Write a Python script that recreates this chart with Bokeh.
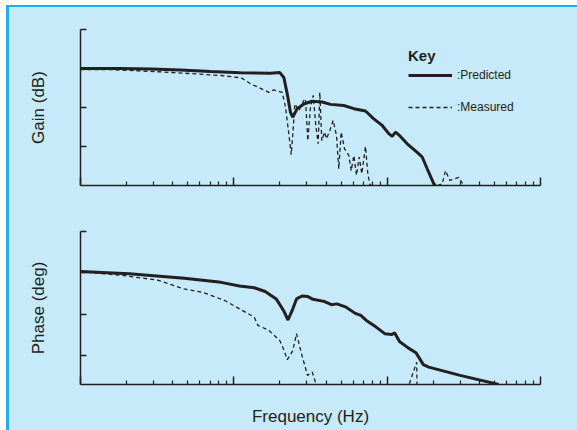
from bokeh.plotting import figure
from bokeh.models import Range1d, FixedTicker, Legend, LegendItem
from bokeh.layouts import column
from bokeh.embed import file_html
from bokeh.resources import INLINE

nan = float("nan")

# ---- data ----
gain_pred_freq = [1.0, 1.82, 2.86, 4.49, 7.05, 11.05, 17.3, 19.9, 21.2, 22.3, 23.4, 24.2, 25.9,
                  28.6, 32.4, 37.7, 42.7, 52.1, 60.6, 72.2, 81.8, 92.8, 102.5, 107.9, 113.4,
                  119.1, 135.1, 157, 169.2, 182.4, 201.5, 206.7]
gain_pred = [3.0, 3.0, 2.99, 2.96, 2.92, 2.89, 2.88, 2.9, 2.77, 2.35, 1.88, 1.75, 1.97,
             2.09, 2.16, 2.14, 2.08, 2.05, 1.97, 1.91, 1.71, 1.54, 1.33, 1.26, 1.37,
             1.3, 1.07, 0.85, 0.73, 0.43, 0.04, 0.0]

gain_meas_freq = [1.0, 1.576, 2.735, 4.75, 8.26, 11.19, 12.85, 16.91, 18.23, 20.68, 21.73, 22.83,
                  23.67, 24.39, 24.98, 26.53, 28.6, 29.34, 30.37, 31.62, 32.93, 34.24, 35.5,
                  36.37, 37.48, 39.03, 40.21, 42.26, 44.48, 46.72, 48.36, 50.15, 52.7, 56.22,
                  58.29, 60.6, 63.1, 65.7, 68.3, 72.2, 74.8, 77.0, 78.7, nan,
                  213, 228.6, 240.2, 256.2, 293.2, 316]
gain_meas = [2.97, 2.97, 2.93, 2.88, 2.82, 2.76, 2.61, 2.39, 2.45, 2.39, 2.01, 1.33,
             0.79, 1.45, 2.09, 1.92, 2.18, 2.22, 1.15, 2.01, 2.31, 1.54, 1.07,
             2.39, 1.15, 1.37, 1.2, 1.41, 1.67, 1.28, 0.43, 1.37, 0.94, 0.77,
             0.38, 0.77, 0.26, 0.73, 0.3, 1.0, 0.3, 0.04, 0.0, nan,
             0.0, 0.04, 0.38, 0.13, 0.21, 0.0]

phase_pred_freq = [1.0, 2.08, 4.75, 8.26, 10.89, 13.58, 16.02, 18.9, 21.09, 22.56, 24.25, 25.63,
                   27.84, 30.23, 32.83, 38.73, 43.35, 47.0, 54.0, 61.96, 67.3, 73.1, 83.9, 96.4,
                   107.5, 111.8, 120.3, 137.8, 154, 172.1, 186.8, 299, 533.9]
phase_pred = [3.03, 2.98, 2.87, 2.77, 2.68, 2.64, 2.55, 2.37, 2.09, 1.86, 2.13, 2.37,
              2.44, 2.43, 2.36, 2.31, 2.23, 2.25, 2.17, 2.02, 1.97, 1.85, 1.70, 1.53,
              1.51, 1.55, 1.34, 1.18, 1.07, 0.78, 0.72, 0.52, 0.3]

phase_meas_freq = [1.0, 1.86, 3.23, 4.75, 6.27, 8.73, 10.89, 13.58, 14.35, 16.93, 19.97, 21.09,
                   22.32, 24.25, 25.63, 27.84, 30.23, 32.49, 34.29, nan, 139.5, 155.8, 156.5]
phase_meas = [3.03, 2.94, 2.82, 2.61, 2.53, 2.33, 2.13, 1.93, 1.73, 1.61, 1.36, 1.16,
              0.9, 1.12, 1.53, 1.0, 0.52, 0.6, 0.32, nan, 0.32, 0.84, 0.3]

x_major = [1, 10, 100, 1000]
x_minor = [m * 10 ** k for k in range(3) for m in range(2, 10)]
gain_ticks = [1, 2, 3, 4]
phase_ticks = [1, 2, 3, 4]

BG = "#c6eaf9"
INK = "#231f20"
FONT = "Liberation Sans"


def make_fig(y_range, fh, top, bottom):
    p = figure(x_axis_type="log", x_range=Range1d(1, 1000), y_range=y_range,
               frame_width=460, frame_height=fh,
               min_border_left=71, min_border_right=37,
               min_border_top=top, min_border_bottom=bottom,
               output_backend="svg", toolbar_location=None,
               background_fill_color=BG, border_fill_color=BG,
               outline_line_color=None)
    p.xgrid.visible = False
    p.ygrid.visible = False
    for ax in (p.xaxis[0], p.yaxis[0]):
        ax.axis_line_color = INK
        ax.axis_line_width = 1.5
        ax.major_tick_line_color = INK
        ax.major_tick_line_width = 1.5
        ax.major_tick_out = 0
        ax.minor_tick_out = 0
        ax.major_label_text_font_size = "1px"
        ax.major_label_text_alpha = 0
        ax.major_label_standoff = 0
        ax.axis_label_text_font = FONT
        ax.axis_label_text_font_style = "normal"
        ax.axis_label_text_font_size = "17px"
        ax.axis_label_text_color = INK
    p.xaxis.ticker = FixedTicker(ticks=x_major, minor_ticks=x_minor)
    p.xaxis.major_tick_in = 8
    p.xaxis.minor_tick_in = 4
    p.xaxis.minor_tick_line_color = INK
    p.xaxis.minor_tick_line_width = 1.2
    p.yaxis.major_tick_in = 6
    p.yaxis.minor_tick_line_color = None
    p.yaxis.axis_label_standoff = 33
    return p


# ---- gain ----
p1 = make_fig(Range1d(0, 4), 156, 22, 20)
p1.yaxis.ticker = FixedTicker(ticks=gain_ticks)
p1.yaxis.axis_label = "Gain (dB)"
r_meas = p1.line(gain_meas_freq, gain_meas, line_color=INK, line_width=1.3, line_dash="4 3")
r_pred = p1.line(gain_pred_freq, gain_pred, line_color=INK, line_width=3)

legend = Legend(items=[LegendItem(label=":Predicted", renderers=[r_pred]),
                       LegendItem(label=":Measured", renderers=[r_meas])],
                title="Key", location=(328, 68),
                background_fill_alpha=0, border_line_color=None,
                padding=0, margin=0, spacing=12,
                glyph_width=44, glyph_height=20, label_height=20,
                label_standoff=5, label_text_font=FONT, label_text_font_size="12px",
                label_text_color=INK,
                title_text_font=FONT, title_text_font_size="15px",
                title_text_font_style="bold", title_text_color=INK, title_standoff=1)
p1.add_layout(legend, "center")

# ---- phase ----
p2 = make_fig(Range1d(0.3, 4), 153, 26, 46)
p2.yaxis.ticker = FixedTicker(ticks=phase_ticks)
p2.yaxis.axis_label = "Phase (deg)"
p2.xaxis.axis_label = "Frequency (Hz)"
p2.xaxis.axis_label_standoff = 22
p2.line(phase_meas_freq, phase_meas, line_color=INK, line_width=1.3, line_dash="4 3")
p2.line(phase_pred_freq, phase_pred, line_color=INK, line_width=3)

layout = column(p1, p2, spacing=0,
                styles={"margin-top": "5px", "margin-left": "6px",
                        "border-top": "2px solid #1ab1ec",
                        "border-left": "3px solid #1ab1ec",
                        "background-color": BG})

open("out.html", "w").write(file_html(layout, INLINE))
